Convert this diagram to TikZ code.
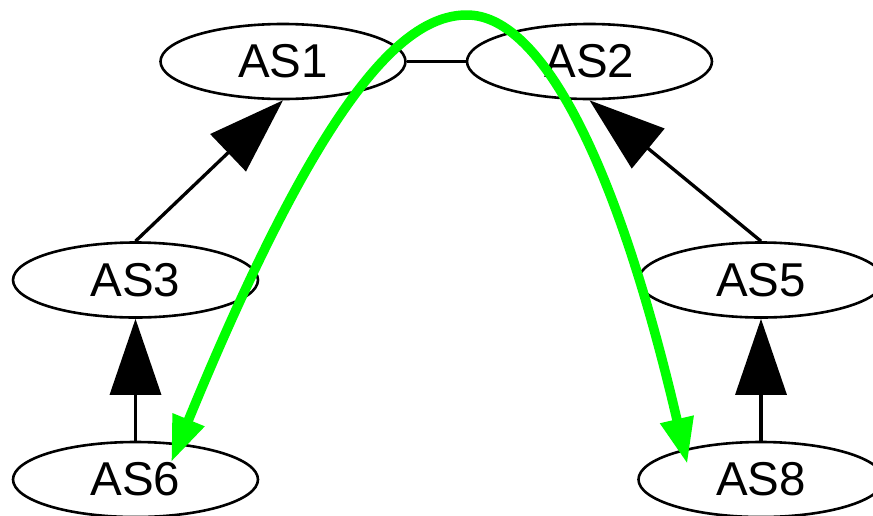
\documentclass[tikz,border=0pt]{standalone}
\usepackage{fontspec}
\setmainfont{Liberation Sans}
\usetikzlibrary{shapes.geometric,arrows.meta}
\definecolor{pathgreen}{HTML}{00FF00}
\tikzset{
	as/.style={draw,ellipse,line width=2.6pt,minimum width=245pt,minimum height=75pt,inner sep=0pt,font=\fontsize{47.5}{57}\selectfont},
	up/.style={line width=3.3pt,-{Triangle[length=76pt,width=51pt]}},
	route/.style={draw=pathgreen,line width=9.5pt,{Triangle[length=46pt,width=32pt,sep=3pt]}-{Triangle[length=46pt,width=32pt,sep=3pt]}}
}
\begin{document}
\begin{tikzpicture}[x=1pt,y=-1pt]
	\useasboundingbox (0,0) rectangle (873,515);
	\clip (0,0) rectangle (873,515);
	
	\node[as] (as1) at (283,61.5) {AS1};
	\node[as] (as2) at (589.5,61.5) {AS2};
	\node[as] (as3) at (135.5,280) {AS3};
	\node[as] (as5) at (761,280) {AS5};
	\node[as] (as6) at (135.5,479.5) {AS6};
	\node[as] (as8) at (761,479.5) {AS8};
	
	\draw[line width=3.3pt] (as1.east) -- (as2.west);
	\draw[up] (as3.north) -- (as1.south);
	\draw[up] (as5.north) -- (as2.south);
	\draw[up] (as6.north) -- (as3.south);
	\draw[up] (as8.north) -- (as5.south);
	
	% green route
	\coordinate (from6) at (170,465);
	\coordinate (peak) at (467,15);
	\coordinate (to8) at (688,467);
	\draw[route] (from6) .. controls (326,85) and (407,15) .. (peak)
		.. controls (537,15) and (613,146) .. (to8);
\end{tikzpicture}
\end{document}
